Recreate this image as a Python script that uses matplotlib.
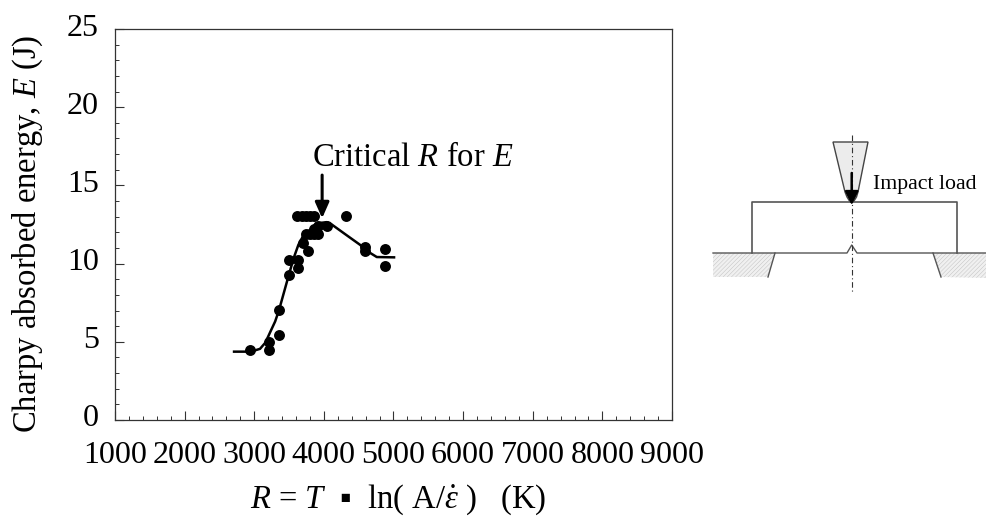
import numpy as np
import matplotlib; matplotlib.use("Agg")
import matplotlib.pyplot as plt
from matplotlib.ticker import MultipleLocator
from matplotlib.transforms import ScaledTranslation

plt.rcParams["font.family"] = ["Liberation Serif", "DejaVu Serif"]
plt.rcParams["mathtext.fontset"] = "custom"
plt.rcParams["mathtext.rm"] = "Liberation Serif"
plt.rcParams["mathtext.it"] = "Liberation Serif:italic"
plt.rcParams["hatch.linewidth"] = 0.3

R_pts = [2940, 3217, 3217, 3356, 3356, 3495, 3495, 3634, 3634, 3773, 3696,
         3620, 3682, 3744, 3800, 3860, 3744, 3800, 3860, 3921, 3860, 3921,
         4041, 4319, 4597, 4597, 4880, 4880]
E_pts = [4.45, 5.0, 4.45, 5.43, 7.03, 9.25, 10.2, 10.2, 9.75, 10.8, 11.3,
         13.04, 13.04, 13.04, 13.04, 13.04, 11.9, 11.9, 11.9, 11.9, 12.2, 12.4,
         12.4, 13.04, 11.05, 10.8, 10.93, 9.85]

R_curve = [2710, 2950, 3083, 3160, 3227, 3300, 3356, 3495, 3570, 3634, 3700,
           3780, 3860, 3945, 4040, 4113, 4300, 4520, 4640, 4760, 5008]
E_curve = [4.37, 4.37, 4.55, 4.95, 5.6, 6.3, 7.03, 9.25, 10.4, 11.2, 11.75,
           12.05, 12.35, 12.6, 12.65, 12.5, 11.9, 11.2, 10.75, 10.42, 10.4]

x_ticks = [1000, 2000, 3000, 4000, 5000, 6000, 7000, 8000, 9000]
y_ticks = [0, 5, 10, 15, 20, 25]

# schematic geometry, pixel positions of the reference
spec_x = [752, 752, 957, 957]
spec_y = [253, 202, 202, 253]
base_x = [713, 847, 851.7, 857, 987]
base_y = [253, 253, 245, 253, 253]
sup_l_x = [713, 775, 768, 713]
sup_r_x = [933, 987, 987, 941]
sup_l_y = [253, 253, 277, 277]
sup_r_y = [253, 253, 278, 277]
striker_x = [833, 845, 847, 849.5, 851.7, 854, 856.5, 858, 868]
striker_y = [142, 192, 197, 201, 203, 201, 197, 192, 142]

W, H = 987, 516
fig = plt.figure(figsize=(W / 100, H / 100), dpi=100)
ax = fig.add_axes([115 / W, 1 - 420 / H, (672 - 115) / W, (420 - 29) / H])

ax.plot(R_curve, E_curve, color="black", lw=1.8, zorder=2)
ax.scatter(R_pts, E_pts, color="black", s=62, lw=0, zorder=3)
ax.annotate("", xy=(3975, 12.9), xytext=(3975, 15.66),
            arrowprops=dict(arrowstyle="-|>,head_width=0.42,head_length=0.95", color="black",
                            lw=2.2, shrinkA=0, shrinkB=0))
ax.text(3830, 16.24, "Critical $R$ for $E$", fontsize=23.5, ha="left", va="baseline")

ax.set_xlim(1000, 9000); ax.set_ylim(0, 25)
ax.set_xticks(x_ticks); ax.set_yticks(y_ticks)
ax.xaxis.set_minor_locator(MultipleLocator(200))
ax.yaxis.set_minor_locator(MultipleLocator(1))
ax.tick_params(which="major", direction="in", length=6.2, width=0.8, labelsize=23, colors="#333")
ax.tick_params(which="minor", direction="in", length=3, width=0.7, colors="#333")
ax.tick_params(axis="both", which="major", labelcolor="black")
ax.tick_params(axis="x", pad=15)
ax.tick_params(axis="y", pad=11.5)
for lab in ax.get_yticklabels():
    lab.set_transform(lab.get_transform() + ScaledTranslation(0, 4.5 / 100, fig.dpi_scale_trans))
for s in ax.spines.values():
    s.set_linewidth(0.9); s.set_color("#333")
ax.set_ylabel("Charpy absorbed energy, $E$ (J)", fontsize=23.5, va="baseline")
ax.yaxis.set_label_coords(-0.142, 0.476)
ax.set_xlabel("$R$ = $T$  \u25aa  ln( A/$\\dot{\\varepsilon}$ )   (K)", fontsize=23.5, va="baseline")
ax.xaxis.set_label_coords(0.508, -0.225)

# impact test sketch on top, in pixels
sk = fig.add_axes([0, 0, 1, 1]); sk.set_xlim(0, W); sk.set_ylim(H, 0); sk.axis("off")
sk.patch.set_alpha(0)
sk.fill(striker_x, striker_y, facecolor="#ececec", edgecolor="#444", lw=1.0, zorder=1)
sk.plot(spec_x, spec_y, color="#555", lw=1.2, zorder=2)
sk.plot(base_x, base_y, color="#555", lw=1.0, zorder=2)
for xs, ys in [(sup_l_x, sup_l_y), (sup_r_x, sup_r_y)]:
    sk.fill(xs, ys, facecolor="#f0f0f0", edgecolor="#bbb", hatch="////////", lw=0, zorder=1)
sk.plot([775, 768], [253, 277], color="#555", lw=1.0, zorder=2)
sk.plot([933, 941], [253, 277], color="#555", lw=1.0, zorder=2)
sk.plot([851.7, 851.7], [135, 292], color="#333", lw=0.8, ls=(0, (5, 2.5, 1, 2.5)), zorder=3)
sk.annotate("", xy=(851.7, 205), xytext=(851.7, 173),
            arrowprops=dict(arrowstyle="-|>,head_width=0.4,head_length=0.8", color="black",
                            lw=1.8, shrinkA=0, shrinkB=0), zorder=4)
sk.text(873, 189, "Impact load", fontsize=15.7, ha="left", va="baseline")

fig.savefig("out.png", dpi=100)
